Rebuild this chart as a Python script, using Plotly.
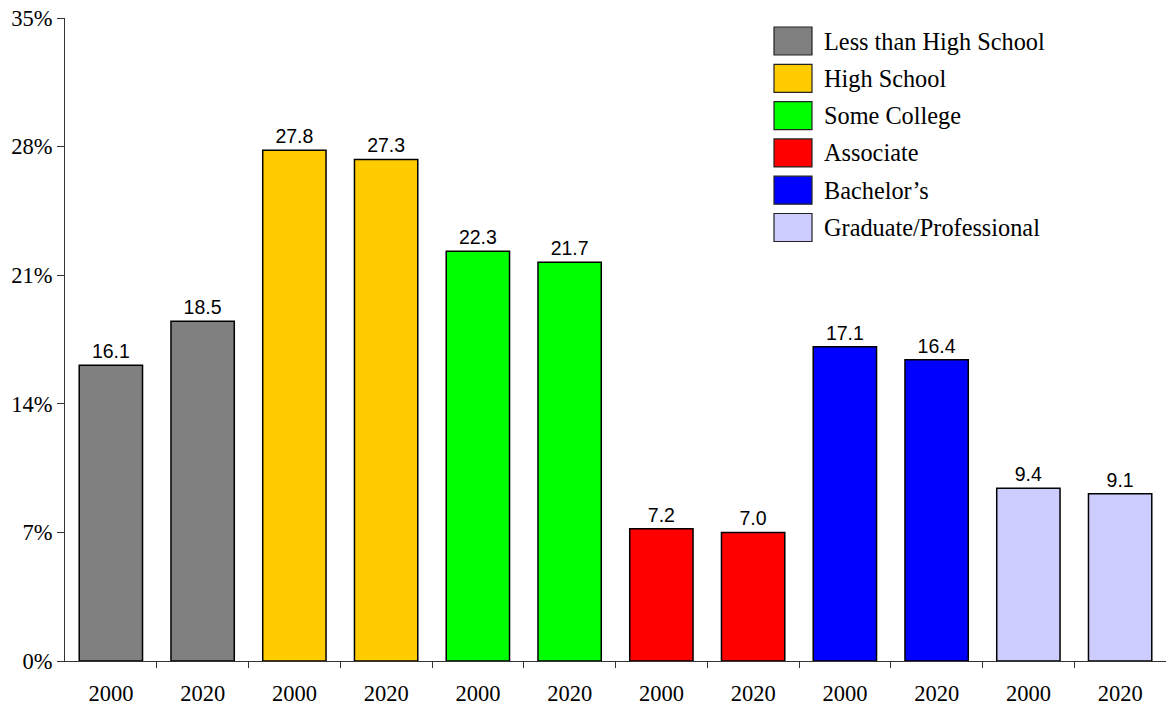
import plotly.graph_objects as go

categories = ["Less than High School", "High School", "Some College",
              "Associate", "Bachelor\u2019s", "Graduate/Professional"]
years = ["2000", "2020"]
values_2000 = [16.1, 27.8, 22.3, 7.2, 17.1, 9.4]
values_2020 = [18.5, 27.3, 21.7, 7.0, 16.4, 9.1]
colors = ["#808080", "#FFCC00", "#00FF00", "#FF0000", "#0000FF", "#CCCCFF"]
y_ticks = [0, 7, 14, 21, 28, 35]

W, H = 1166, 705
ML, MR, MT, MB = 65, 0, 18, 44
pw, ph = W - ML - MR, H - MT - MB
SERIF = "Liberation Serif, Times New Roman"

fig = go.Figure()
tick_text = []
for i, (cat, v0, v1, c) in enumerate(zip(categories, values_2000, values_2020, colors)):
    fig.add_trace(go.Bar(
        x=[2 * i, 2 * i + 1], y=[v0, v1], name=cat,
        marker=dict(color=c, line=dict(color="black", width=1.5)),
        width=0.69,
        texttemplate="%{y:.1f}", textposition="outside",
        textfont=dict(family="Liberation Sans, Arial", size=19.5, color="black"),
        cliponaxis=False, showlegend=False,
    ))
    tick_text += years

n = len(tick_text)
fig.update_xaxes(
    range=[-0.5, n - 0.5], automargin=False,
    tickvals=list(range(n)), ticktext=tick_text,
    ticks="", ticklabelstandoff=12,
    tickfont=dict(family=SERIF, size=22.5, color="black"),
    showline=True, linecolor="#333333", linewidth=1.2,
    showgrid=False, zeroline=False,
    minor=dict(tickvals=[k + 0.5 for k in range(n - 1)], ticks="outside",
               ticklen=6, tickcolor="#333333", tickwidth=1.2, showgrid=False),
)
fig.update_yaxes(
    range=[0, 35], automargin=False, tickvals=y_ticks,
    ticktext=[f"{t}%" for t in y_ticks],
    ticks="outside", ticklen=7, tickcolor="#333333", tickwidth=1.2,
    tickfont=dict(family=SERIF, size=22.5, color="black"),
    showline=True, linecolor="#333333", linewidth=1.2,
    showgrid=False, zeroline=False,
)

# custom legend (large swatches like the reference)
sw_x0, sw_x1, txt_x = 774, 812, 825
row0_top, sw_h, step = 27, 28, 37.3
for i, (cat, c) in enumerate(zip(categories, colors)):
    top = row0_top + i * step
    bot = top + sw_h
    fig.add_shape(type="rect", xref="paper", yref="paper",
                  x0=(sw_x0 - ML) / pw, x1=(sw_x1 - ML) / pw,
                  y0=(H - MB - bot) / ph, y1=(H - MB - top) / ph,
                  fillcolor=c, line=dict(color="#222222", width=1.2))
    fig.add_annotation(xref="paper", yref="paper",
                       x=(txt_x - ML) / pw, y=(H - MB - (top + bot) / 2) / ph,
                       text=cat, showarrow=False, xanchor="left", yanchor="middle",
                       xshift=-3,
                       font=dict(family=SERIF, size=24.3, color="black"))

fig.update_layout(
    width=W, height=H,
    margin=dict(l=ML, r=MR, t=MT, b=MB),
    plot_bgcolor="white", paper_bgcolor="white",
    bargap=0.31, showlegend=False,
)
fig.write_html("out.html", config={"displayModeBar": False},
               post_script="document.body.style.margin='0';document.body.style.padding='0';")
